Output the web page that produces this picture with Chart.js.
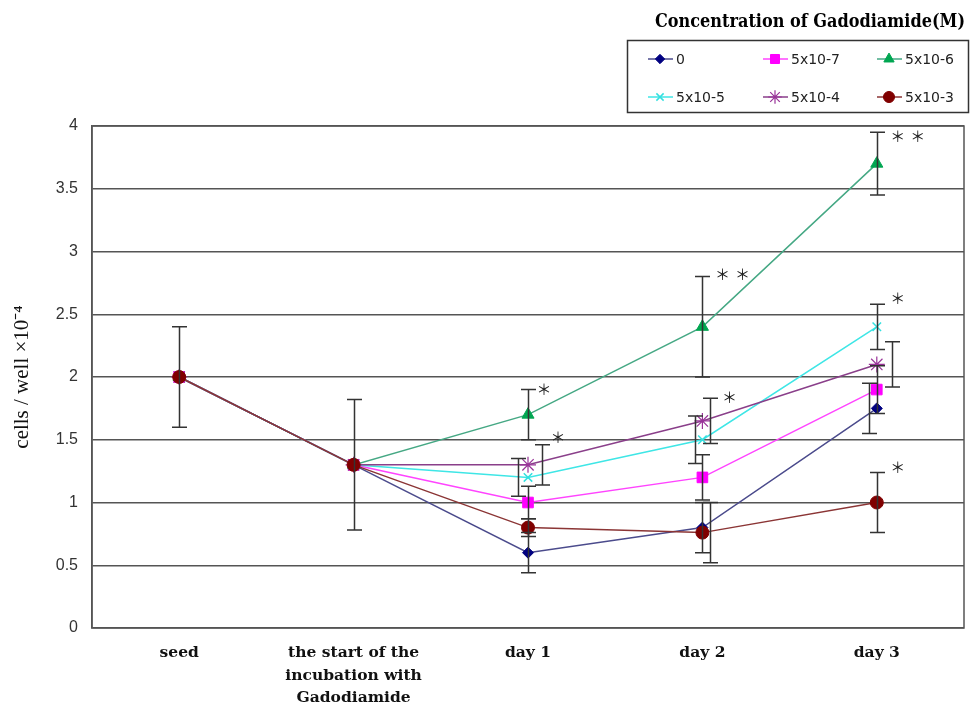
<!DOCTYPE html>
<html>
<head>
<meta charset="utf-8">
<script src="https://cdn.jsdelivr.net/npm/chart.js@4.4.1/dist/chart.umd.min.js"></script>
<style>
  html, body { margin: 0; padding: 0; background: #ffffff; }
  #wrap { width: 977px; height: 707px; }
</style>
</head>
<body>
<div id="wrap"><canvas id="chart" width="977" height="707"></canvas></div>
<script>
// Time points
const categories = ['seed', ['the start of the', 'incubation with', 'Gadodiamide'], 'day 1', 'day 2', 'day 3'];

// Gadodiamide concentrations (M)
const seriesNames = ['0', '5x10-7', '5x10-6', '5x10-5', '5x10-4', '5x10-3'];

// Mean cell counts (cells / well x 10^-4)
const conc0   = [2.0, 1.3, 0.60, 0.80, 1.75];
const conc5e7 = [2.0, 1.3, 1.00, 1.20, 1.90];
const conc5e6 = [2.0, 1.3, 1.70, 2.40, 3.70];
const conc5e5 = [2.0, 1.3, 1.20, 1.50, 2.40];
const conc5e4 = [2.0, 1.3, 1.30, 1.65, 2.10];
const conc5e3 = [2.0, 1.3, 0.80, 0.76, 1.00];

// Standard deviations (the first two time points are shared by all groups)
const err0   = [0.40, 0.52, 0.16, 0.20, 0.20];
const err5e7 = [null, null, 0.13, 0.18, 0.19];
const err5e6 = [null, null, 0.20, 0.40, 0.25];
const err5e5 = [null, null, 0.15, 0.19, 0.18];
const err5e4 = [null, null, 0.16, 0.18, 0.18];
const err5e3 = [null, null, 0.07, 0.24, 0.24];

// Y axis ticks
const yTicks = [0, 0.5, 1, 1.5, 2, 2.5, 3, 3.5, 4];

// Significance marks: time point, level, symbol
const sigMarks = [
  { cat: 2, value: 1.90, text: '＊' },
  { cat: 2, value: 1.52, text: '＊' },
  { cat: 3, value: 2.82, text: '＊＊' },
  { cat: 3, value: 1.84, text: '＊' },
  { cat: 4, value: 3.92, text: '＊＊' },
  { cat: 4, value: 2.63, text: '＊' },
  { cat: 4, value: 1.28, text: '＊' }
];

const seriesValues = [conc0, conc5e7, conc5e6, conc5e5, conc5e4, conc5e3];
const seriesErrors = [err0, err5e7, err5e6, err5e5, err5e4, err5e3];

// Appearance of each group
const styles = [
  { line: '#4b4b8c', fill: '#000080', stroke: '#000080', shape: 'rectRot', r: 5.5, bw: 1 },
  { line: '#ff44ff', fill: '#ff00ff', stroke: '#ff00ff', shape: 'rect', r: 7.5, bw: 1 },
  { line: '#45a884', fill: '#00a651', stroke: '#00a651', shape: 'triangle', r: 7, bw: 1 },
  { line: '#3fe6e6', fill: '#33e0e0', stroke: '#33e0e0', shape: 'crossRot', r: 6, bw: 1.5 },
  { line: '#8a3f8a', fill: '#993399', stroke: '#993399', shape: 'star', r: 8, bw: 1.2 },
  { line: '#8b3535', fill: '#800000', stroke: '#800000', shape: 'circle', r: 6.5, bw: 1 }
];

// Horizontal nudges (px) for error bars that would otherwise overlap
const errShift = [
  [0, 0, 0, 0, -8],
  [0, 0, 0, 0, 0],
  [0, 0, 0, 0, 0],
  [0, 0, -10, -7, 0],
  [0, 0, 14, 8, 15],
  [0, 0, 0, 8, 0]
];
// Horizontal placement (px from the time point) of each significance mark
const markShift = [16, 30, 20, 27, 21, 21, 21];

const datasets = seriesNames.map((name, i) => ({
  label: name,
  data: seriesValues[i],
  errors: seriesErrors[i],
  order: seriesNames.length - i, // later groups are painted on top
  borderColor: styles[i].line,
  backgroundColor: styles[i].fill,
  pointBackgroundColor: styles[i].fill,
  pointBorderColor: styles[i].stroke,
  pointBorderWidth: styles[i].bw,
  pointStyle: styles[i].shape,
  pointRadius: styles[i].r,
  pointHoverRadius: styles[i].r,
  borderWidth: 1.5,
  tension: 0,
  fill: false
}));

const frameAndErrors = {
  id: 'frameAndErrors',
  beforeDatasetsDraw(chart) {
    const { ctx, chartArea: a } = chart;
    ctx.save();
    ctx.strokeStyle = '#555';
    ctx.lineWidth = 1.5;
    ctx.strokeRect(a.left, a.top, a.right - a.left, a.bottom - a.top);
    ctx.restore();
  },
  afterDatasetsDraw(chart) {
    const { ctx, scales: { x, y } } = chart;
    ctx.save();
    ctx.strokeStyle = '#333';
    ctx.lineWidth = 1.5;
    chart.data.datasets.forEach((ds, i) => {
      ds.errors.forEach((e, j) => {
        if (e == null) return;
        const v = ds.data[j];
        const px = Math.round(x.getPixelForValue(j) + errShift[i][j]) + 0.5;
        const top = y.getPixelForValue(v + e);
        const bot = y.getPixelForValue(v - e);
        const cap = 7.5;
        ctx.beginPath();
        ctx.moveTo(px, top); ctx.lineTo(px, bot);
        ctx.moveTo(px - cap, top); ctx.lineTo(px + cap, top);
        ctx.moveTo(px - cap, bot); ctx.lineTo(px + cap, bot);
        ctx.stroke();
      });
    });
    // significance marks
    ctx.fillStyle = '#222';
    ctx.font = '15px "Noto Sans CJK JP"';
    ctx.textAlign = 'center';
    ctx.textBaseline = 'middle';
    sigMarks.forEach((m, k) => {
      const cx = x.getPixelForValue(m.cat) + markShift[k];
      const cy = y.getPixelForValue(m.value);
      [...m.text].forEach((ch, n) => ctx.fillText(ch, cx + n * 20, cy));
    });
    ctx.restore();
  },
  afterDraw(chart) {
    // legend with its heading
    const { ctx } = chart;
    ctx.save();
    ctx.fillStyle = '#000';
    ctx.font = 'bold 18px "DejaVu Serif"';
    ctx.textAlign = 'right';
    ctx.textBaseline = 'middle';
    ctx.fillText('Concentration of Gadodiamide(M)', 965, 22, 310);

    ctx.strokeStyle = '#333';
    ctx.lineWidth = 1.5;
    ctx.strokeRect(627.5, 40.5, 341, 72);

    const colX = [660, 775, 889];
    const rowY = [59, 97];
    ctx.font = '14px "DejaVu Sans"';
    ctx.textAlign = 'left';
    chart.data.datasets.forEach((ds, i) => {
      const cx = colX[i % 3];
      const cy = rowY[Math.floor(i / 3)];
      const s = styles[i];
      ctx.strokeStyle = s.line;
      ctx.lineWidth = 1.5;
      ctx.beginPath();
      ctx.moveTo(cx - 12, cy); ctx.lineTo(cx + 13, cy);
      ctx.stroke();
      ctx.fillStyle = s.fill;
      ctx.strokeStyle = s.stroke;
      ctx.lineWidth = s.bw;
      Chart.helpers.drawPoint(ctx, { pointStyle: s.shape, radius: s.r * 0.85, borderWidth: s.bw }, cx, cy);
      ctx.fillStyle = '#222';
      ctx.fillText(ds.label, cx + 16, cy + 1);
    });
    ctx.restore();
  }
};

new Chart(document.getElementById('chart'), {
  type: 'line',
  data: { labels: categories, datasets },
  plugins: [frameAndErrors],
  options: {
    responsive: false,
    animation: false,
    layout: { padding: { top: 126, right: 13, left: 0, bottom: 0 } },
    plugins: { legend: { display: false }, tooltip: { enabled: false } },
    scales: {
      x: {
        offset: true,
        grid: { display: false, drawTicks: false },
        border: { display: false },
        ticks: {
          color: '#111',
          padding: 14,
          maxRotation: 0,
          autoSkip: false,
          font: { family: '"DejaVu Serif"', weight: 'bold', size: 15.5, lineHeight: 1.45 }
        },
        afterFit(scale) { scale.height = 79; }
      },
      y: {
        min: 0,
        max: 4,
        afterBuildTicks(scale) { scale.ticks = yTicks.map(v => ({ value: v })); },
        grid: { color: '#555', lineWidth: 1.5, drawTicks: false },
        border: { display: true, color: '#555', width: 1.5 },
        ticks: {
          color: '#333',
          padding: 14,
          font: { family: '"Liberation Sans"', size: 16 },
          callback: v => String(v)
        },
        title: {
          display: true,
          text: 'cells / well ×10⁻⁴',
          color: '#111',
          padding: { top: 10, bottom: 0 },
          font: { family: '"Liberation Serif"', size: 21 }
        },
        afterFit(scale) { scale.width = 92; }
      }
    }
  }
});
</script>
</body>
</html>
